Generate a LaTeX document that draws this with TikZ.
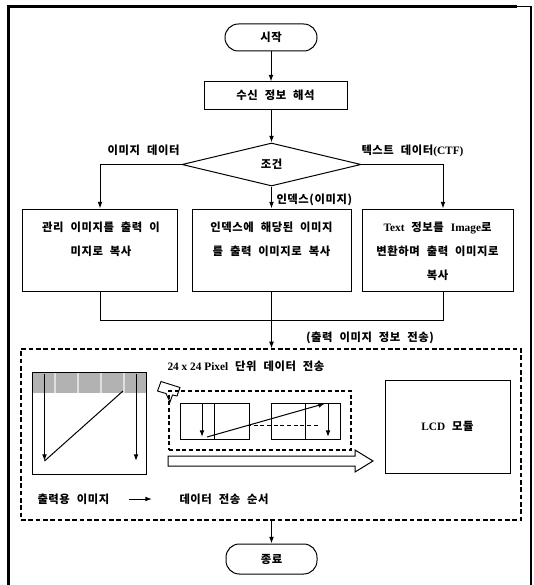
\documentclass[tikz,border=0pt]{standalone}
\usepackage{fontspec}
\setmainfont{Noto Sans CJK KR}[LetterSpace=5,WordSpace=2.2]
\newfontfamily\lat{Liberation Serif}
\usetikzlibrary{shapes.geometric,arrows.meta,calc}
\tikzset{
  term/.style={draw, rounded corners=10pt, inner sep=0pt},
  proc/.style={draw, inner sep=0pt},
  txt/.style={inner sep=0pt, align=center, font=\fontsize{8.5pt}{18pt}\selectfont\bfseries},
  lbl/.style={inner sep=0pt},
  dbox/.style={draw, inner sep=0pt, dash pattern=on 3.5pt off 2pt, line width=0.9pt},
  ibox/.style={draw, inner sep=0pt, dash pattern=on 3pt off 2pt, line width=0.9pt},
  arr/.style={-{Latex[length=5pt,width=3.6pt]}},
}
\begin{document}
\begin{tikzpicture}[x=0.75pt,y=-0.75pt, line width=0.75pt,
  font=\fontsize{8.5pt}{10pt}\selectfont\bfseries]
\useasboundingbox (0,0) rectangle (534,585);
% outer frame
\draw[line width=2.6pt] (8.5,590) -- (8.5,6.5) -- (517,6.5);
\draw[line width=1pt] (517,6.5) -- (531,6.5) -- (531,590);

% flow nodes
\node[term, minimum width=69pt, minimum height=20.25pt] (start) at (271,37.5) {시작};
\node[proc, minimum width=107.25pt, minimum height=20.25pt] (recv) at (275.5,95.5) {수신 정보 해석};
\node[draw, diamond, minimum width=134.25pt, minimum height=32.25pt, inner sep=0pt] (cond) at (271.5,164.5) {조건};

\node[proc, minimum width=116.25pt, minimum height=61.5pt] (b1) at (100,250) {};
\node[proc, minimum width=119.25pt, minimum height=61.5pt] (b2) at (271.5,250) {};
\node[proc, minimum width=113.25pt, minimum height=61.5pt] (b3) at (437.5,250) {};
\node[txt, anchor=north] (t1) at ($(b1.north)+(1,13)$) {관리 이미지를 출력 이\\미지로 복사};
\node[txt, anchor=north] (t2) at ($(b2.north)+(0,13)$) {인덱스에 해당된 이미지\\를 출력 이미지로 복사};
\node[txt, anchor=north] (t3) at ($(b3.north)+(0,13)$) {{\lat Text} 정보를 {\lat Image}로\\변환하며 출력 이미지로\\복사};

% connectors
\draw[arr] (start.south) -- (start.south |- recv.north);
\draw[arr] (cond.north |- recv.south) -- (cond.north);
\draw[arr] (cond.west) -| (b1.north);
\draw[arr] (cond.south) -- (b2.north);
\coordinate (b3in) at ($(b3.north)+(5.5,0)$);
\draw[arr] (cond.east) -| (b3in);
\node[lbl, anchor=base east] (l1) at (180,154) {이미지 데이터};
\node[lbl, anchor=base west] (l2) at (361,154) {텍스트 데이터{\lat (CTF)}};
\node[lbl, anchor=base west] (l3) at (276,203) {인덱스(이미지)};

% merge
\coordinate (m) at (271.5,320);
\coordinate (b3out) at ($(b3.south)+(5.5,0)$);
\draw (b1.south) -- (b1.south |- m) -- (b3out |- m) -- (b3out);

% dashed module box
\node[dbox, minimum width=375pt, minimum height=128.25pt] (dbx) at (271,434.5) {};
\draw[arr] (b2.south) -- (b2.south |- dbx.north);
\node[lbl] (l4) at (370,338) {(출력 이미지 정보 전송)};

% output image grid
\fill[gray!60] (32,372) rectangle (146,393);
\foreach \gx in {55,78,101,124} \draw[gray!25, line width=1.2pt] (\gx,372) -- (\gx,393);
\draw[line width=0.6pt] (32,372) rectangle (146,474);
\draw[arr] (44.5,374) -- (44.5,461);
\draw (44.5,461) -- (123,391);
\draw[arr] (136,374) -- (136,461);

% small transfer icon
\draw[line width=0.7pt] (161,381.5) -- (180,387.5) -- (177,396) -- (172.5,395) -- (170,402) -- (166,393.5) -- (157.5,391) -- cycle;
\node[lbl, anchor=base west] (l5) at (167,370) {{\lat 24 x 24 Pixel} 단위 데이터 전송};

% inner transfer box
\node[ibox, minimum width=136.5pt, minimum height=44.25pt] (ib) at (260,420.5) {};
\draw[line width=0.6pt] (180.5,403) rectangle (249,439);
\draw[line width=0.6pt] (214,403) -- (214,439);
\draw[line width=0.6pt] (271,403) rectangle (340,439);
\draw[line width=0.6pt] (305.5,403) -- (305.5,439);
\draw[arr] (202,403) -- (202,437);
\draw[arr] (207,437) -- (325,403.5);
\draw[arr] (328,403) -- (328,437);
\draw[dash pattern=on 3pt off 2pt] (247,425.5) -- (318,425.5);

% big hollow arrow
\draw (168,456) -- (355,456) -- (355,450) -- (373,461) -- (355,472) -- (355,466) -- (168,466) -- cycle;

% LCD module
\node[proc, minimum width=93.75pt, minimum height=69.75pt] (lcd) at (447.5,426.5) {{\lat LCD} 모듈};

% legend
\node[lbl, anchor=base west] (l6) at (37,503) {출력용 이미지};
\coordinate (la) at (129,499);
\coordinate (lb) at (152,499);
\draw[arr] (la) -- (lb);
\node[lbl, anchor=base west] (l7) at (179,503) {데이터 전송 순서};

% end
\node[term, minimum width=68.25pt, minimum height=22.5pt] (stop) at (271.5,559) {종료};
\draw[arr] (dbx.south -| stop.north) -- (stop.north);
\end{tikzpicture}
\end{document}
